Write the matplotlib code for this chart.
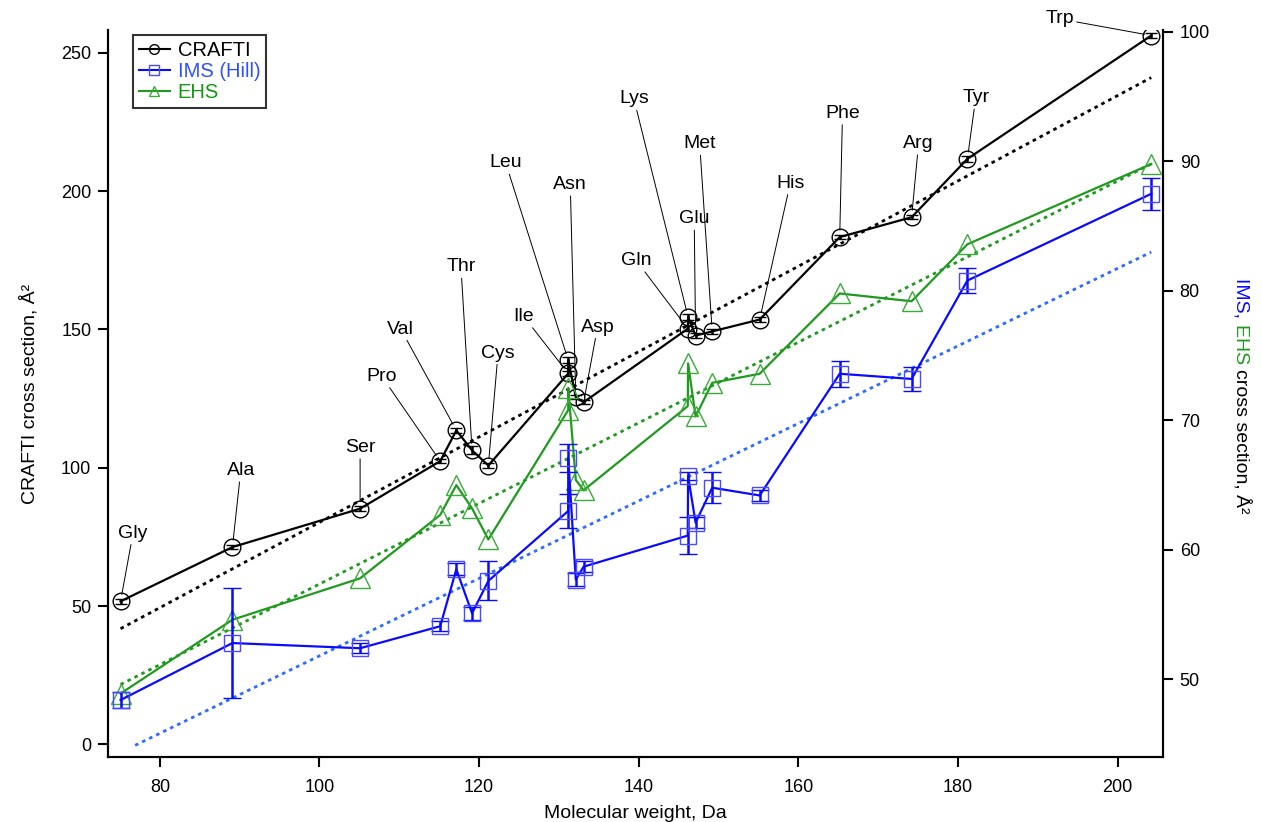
import matplotlib
matplotlib.use("Agg")
import matplotlib.pyplot as plt
from matplotlib.lines import Line2D

plt.rcParams["font.family"] = ["Liberation Sans", "DejaVu Sans"]

# amino acids, ordered by molecular weight
names = ["Gly", "Ala", "Ser", "Pro", "Val", "Thr", "Cys", "Ile", "Leu", "Asn",
         "Asp", "Gln", "Lys", "Glu", "Met", "His", "Phe", "Arg", "Tyr", "Trp"]
mw = [75.07, 89.09, 105.09, 115.13, 117.15, 119.12, 121.16, 131.17, 131.17, 132.12,
      133.10, 146.15, 146.19, 147.13, 149.21, 155.16, 165.19, 174.20, 181.19, 204.23]

# CRAFTI cross sections (left axis)
crafti = [51.7, 71.3, 85.2, 102.4, 113.5, 106.3, 100.8, 134.1, 138.9, 125.5,
          123.7, 150.3, 154.5, 147.8, 149.3, 153.6, 183.4, 190.6, 211.7, 256.3]
crafti_err = [0.8, 0.8, 0.8, 0.8, 0.8, 1.5, 0.8, 1.0, 1.0, 0.8,
              0.8, 1.0, 1.0, 0.8, 0.8, 0.8, 0.8, 0.8, 1.2, 0.8]

# IMS (Hill) and EHS cross sections (right axis)
ims = [48.4, 52.8, 52.4, 54.1, 58.5, 55.1, 57.6, 63.0, 67.1, 57.7,
       58.7, 61.1, 65.7, 62.1, 64.8, 64.2, 73.6, 73.2, 80.8, 87.5]
ims_err = [0.6, 4.25, 0.4, 0.4, 0.45, 0.5, 1.5, 1.3, 1.1, 0.5,
           0.4, 1.4, 0.3, 0.4, 1.2, 0.4, 1.0, 0.9, 1.0, 1.25]
ehs = [48.9, 54.6, 57.8, 62.7, 65.0, 63.2, 60.8, 70.8, 72.5, 65.4,
       64.6, 71.1, 74.4, 70.3, 72.9, 73.6, 79.8, 79.2, 83.6, 89.8]

# linear fits (end points)
crafti_fit_x = [75.07, 204.23]
crafti_fit_y = [41.8, 241.1]
ehs_fit_x = [75.07, 204.23]
ehs_fit_y = [49.6, 89.8]
ims_fit_x = [76.9, 204.23]
ims_fit_y = [44.9, 83.0]

# label offsets from the CRAFTI marker, in points
label_dx = [9, 6, 0, -42, -40, -8, 7, -32, -45, -4,
            10, -37, -39, -1, -9, 22, 2, 5, 6, -66]
label_dy = [49, 55, 44, 61, 73, 132, 81, 41, 142, 153,
            54, 49, 157, 84, 135, 98, 89, 53, 44, 12]

BLUE = "#0a0aff"
BLUE_MK = "#4a4aff"
BLUE_FIT = "#2f6bff"
GREEN = "#1f9a1f"
GREEN_MK = "#3aaa3a"

fig = plt.figure(figsize=(12.62, 8.22), dpi=100)
ax = fig.add_axes([108 / 1262, 1 - 757 / 822, (1163 - 108) / 1262, (757 - 30) / 822])
ax2 = ax.twinx()

# CRAFTI on the left axis
ax.plot(crafti_fit_x, crafti_fit_y, color="k", lw=2, linestyle=(0, (1.3, 1.5)))
ax.errorbar(mw, crafti, yerr=crafti_err, fmt="-o", color="k", lw=1.6, ms=12,
            mfc="none", mec="k", mew=1.0, ecolor="k", elinewidth=1.8,
            capsize=4.5, capthick=1.8)

# IMS and EHS on the right axis
ax2.plot(ehs_fit_x, ehs_fit_y, color=GREEN, lw=2, linestyle=(0, (1.3, 1.5)))
ax2.plot(ims_fit_x, ims_fit_y, color=BLUE_FIT, lw=2, linestyle=(0, (1.3, 1.5)))
ax2.plot(mw, ehs, "-^", color=GREEN, lw=1.6, ms=15, mfc="none", mec=GREEN_MK, mew=1.0)
ax2.errorbar(mw, ims, yerr=ims_err, fmt="-s", color=BLUE, lw=1.6, ms=11,
             mfc="none", mec=BLUE_MK, mew=1.0, ecolor=BLUE, elinewidth=1.8,
             capsize=6.5, capthick=1.8)

# amino acid labels with leader lines
for name, x, y, dx, dy in zip(names, mw, crafti, label_dx, label_dy):
    ax.annotate(name, xy=(x, y), xytext=(dx, dy), textcoords="offset points",
                ha="center", va="center", fontsize=14, annotation_clip=False,
                arrowprops=dict(arrowstyle="-", color="k", lw=0.7,
                                shrinkA=0, shrinkB=5))

ax.set_xlim(73.5, 205.7)
ax.set_ylim(-4.6, 258.3)
ax2.set_ylim(44.0, 100.15)
ax.set_xticks([80, 100, 120, 140, 160, 180, 200])
ax.set_yticks([0, 50, 100, 150, 200, 250])
ax2.set_yticks([50, 60, 70, 80, 90, 100])

for a in (ax, ax2):
    a.spines["top"].set_visible(False)
    for s in a.spines.values():
        s.set_linewidth(1.5)
    a.tick_params(axis="both", direction="out", length=7, width=1.5,
                  labelsize=13, pad=5)
ax.tick_params(axis="x", pad=8.5)

ax.set_xlabel("Molecular weight, Da", fontsize=14)
ax.xaxis.set_label_coords(0.5, -0.066)
ax.set_ylabel("CRAFTI cross section, Å²", fontsize=14)
ax.yaxis.set_label_coords(-0.066, 0.5)

# right axis label in three colours, reading downwards
renderer = fig.canvas.get_renderer()
pieces = [("IMS, ", BLUE), ("EHS ", GREEN), ("cross section, Å²", "k")]
texts = []
for txt, col in pieces:
    texts.append(fig.text(0, 0, txt, color=col, fontsize=14, rotation=-90,
                          rotation_mode="anchor", ha="left", va="baseline"))
lengths = [t.get_window_extent(renderer).height for t in texts]
total = sum(lengths)
y_pos = (822 - 396) + total / 2
for t, h in zip(texts, lengths):
    t.set_position((1236 / 1262, y_pos / 822))
    y_pos -= h

# legend
handles = [
    Line2D([], [], color="k", lw=1.5, marker="o", ms=7, mfc="none", mew=1.0),
    Line2D([], [], color=BLUE, lw=1.5, marker="s", ms=7, mfc="none", mec=BLUE_MK, mew=1.0),
    Line2D([], [], color=GREEN, lw=1.5, marker="^", ms=7, mfc="none", mec=GREEN_MK, mew=1.0),
]
leg = ax2.legend(handles, ["CRAFTI", "IMS (Hill)", "EHS"], loc="upper left",
                 bbox_to_anchor=(0.024, 0.993), fontsize=14.5, frameon=True,
                 fancybox=False, edgecolor="k", handlelength=1.5,
                 handletextpad=0.4, labelspacing=0.1, borderpad=0.3,
                 borderaxespad=0, labelcolor=["k", "#3050ff", "#119911"])
leg.get_frame().set_linewidth(1.5)

fig.savefig("out.png", dpi=100)
